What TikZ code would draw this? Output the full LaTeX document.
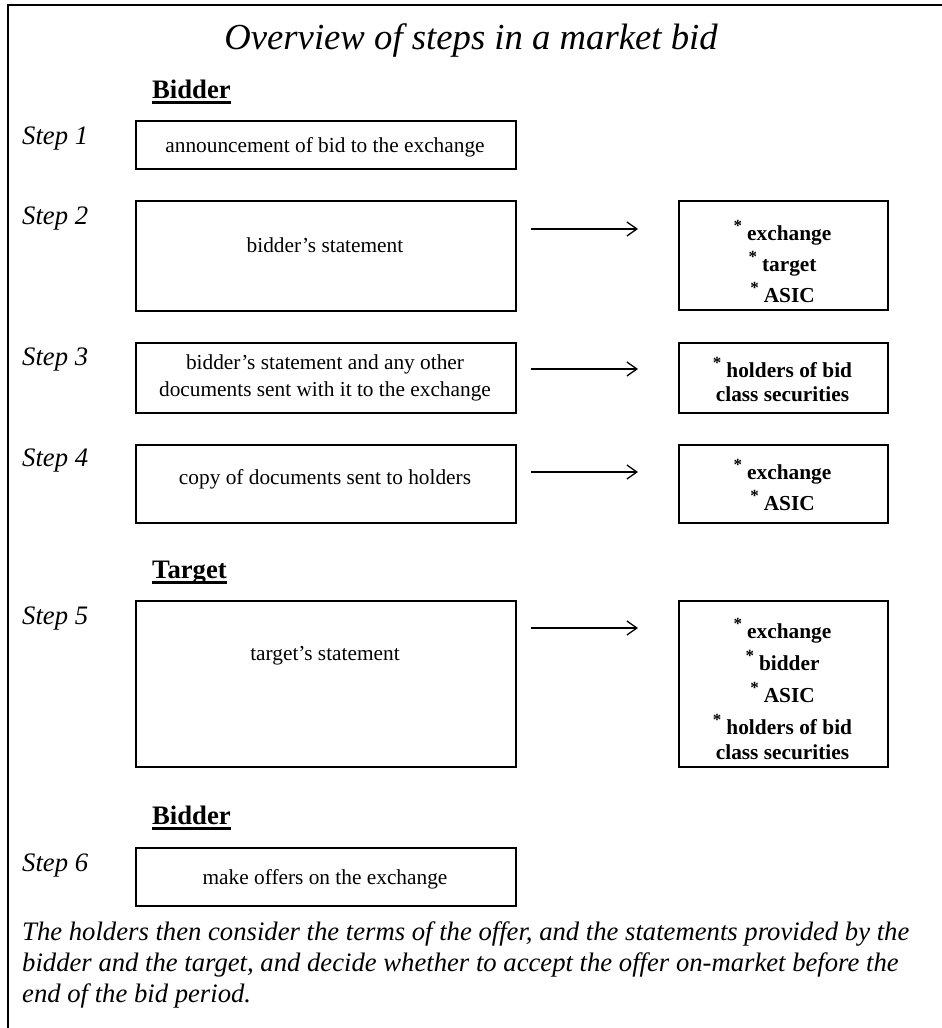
\documentclass[tikz,border=0pt]{standalone}
\usepackage{fontspec}
\setmainfont{Liberation Serif}
\usetikzlibrary{arrows.meta}
\newcommand\bstar{\raisebox{9pt}{\fontsize{17}{17}\selectfont *}\hspace{5pt}}
\newcommand\hul[1]{\setbox0\hbox{#1}\rlap{\vrule height -3pt depth 5.8pt width \wd0}\box0}
\begin{document}
\begin{tikzpicture}[x=1pt,y=-1pt,
  box/.style={draw, line width=2pt, inner sep=0pt, anchor=north west},
  lbox/.style={box, minimum width=380pt},
  rbox/.style={box, minimum width=209pt},
  btxt/.style={inner sep=0pt, align=center, font=\fontsize{21.33}{27}\selectfont},
  rtxt/.style={inner sep=0pt, align=center, font=\fontsize{21.33}{31}\selectfont\bfseries},
  steplbl/.style={inner sep=0pt, anchor=west, font=\fontsize{26.67}{30}\selectfont\itshape},
  hdr/.style={inner sep=0pt, anchor=base west, font=\fontsize{26.67}{30}\selectfont\bfseries},
  arr/.style={line width=1.3pt, -{Straight Barb[length=10pt,width=14pt,line width=1.3pt]}},
]
\useasboundingbox (0,0) rectangle (942,1028);
\draw[line width=2pt] (7.5,1028) -- (7.5,5) -- (942,5);

\node[inner sep=0pt, font=\fontsize{36.7}{40}\selectfont\itshape] (title) at (471,40) {Overview of steps in a market bid};

% headings
\node[hdr] (h1) at (152,98) {\hul{Bidder}};
\node[hdr] (h2) at (152,578) {\hul{Target}};
\node[hdr] (h3) at (152,824) {\hul{Bidder}};

% left boxes
\node[lbox, minimum height=48pt] (b1) at (135,120) {};
\node[lbox, minimum height=110pt] (b2) at (135,200) {};
\node[lbox, minimum height=70pt] (b3) at (135,342) {};
\node[lbox, minimum height=78pt] (b4) at (135,444) {};
\node[lbox, minimum height=166pt] (b5) at (135,600) {};
\node[lbox, minimum height=58pt] (b6) at (135,847) {};

% right boxes
\node[rbox, minimum height=109pt] (r2) at (678,200) {};
\node[rbox, minimum height=70pt] (r3) at (678,342) {};
\node[rbox, minimum height=78pt] (r4) at (678,444) {};
\node[rbox, minimum height=166pt] (r5) at (678,600) {};

% step labels
\node[steplbl] (s1) at (22,139) {Step 1};
\node[steplbl] (s2) at (22,219) {Step 2};
\node[steplbl] (s3) at (22,360) {Step 3};
\node[steplbl] (s4) at (22,461) {Step 4};
\node[steplbl] (s5) at (22,619) {Step 5};
\node[steplbl] (s6) at (22,865) {Step 6};

% left box texts
\node[btxt] (t1) at (325,147) {announcement of bid to the exchange};
\node[btxt] (t2) at (325,245) {bidder’s statement};
\node[btxt] (t3) at (325,378) {bidder’s statement and any other\\documents sent with it to the exchange};
\node[btxt] (t4) at (325,479) {copy of documents sent to holders};
\node[btxt] (t5) at (325,656) {target’s statement};
\node[btxt] (t6) at (325,879) {make offers on the exchange};

% right box texts
\node[rtxt] (q2) at (782.5,261) {\bstar exchange\\\bstar target\\\bstar ASIC};
\node[rtxt, font=\fontsize{21.33}{24}\selectfont\bfseries] (q3) at (782.5,380) {\bstar holders of bid\\class securities};
\node[rtxt] (q4) at (782.5,485) {\bstar exchange\\\bstar ASIC};
\node[rtxt, font=\fontsize{21.33}{32}\selectfont\bfseries] (q5) at (782.5,689) {\bstar exchange\\\bstar bidder\\\bstar ASIC\\\bstar holders of bid\\[-7pt]class securities};

% arrows
\draw[arr] ([xshift=14pt,yshift=-29pt]b2.north east) -- ([xshift=-40pt,yshift=-29pt]r2.north west);
\draw[arr] ([xshift=14pt,yshift=-27pt]b3.north east) -- ([xshift=-40pt,yshift=-27pt]r3.north west);
\draw[arr] ([xshift=14pt,yshift=-28pt]b4.north east) -- ([xshift=-40pt,yshift=-28pt]r4.north west);
\draw[arr] ([xshift=14pt,yshift=-28pt]b5.north east) -- ([xshift=-40pt,yshift=-28pt]r5.north west);

% closing paragraph
\node[inner sep=0pt, anchor=north west, align=left, font=\fontsize{26.67}{30.67}\selectfont\itshape] (para) at (22,922)
{The holders then consider the terms of the offer, and the statements provided by the\\
bidder and the target, and decide whether to accept the offer on-market before the\\
end of the bid period.};
\end{tikzpicture}
\end{document}
